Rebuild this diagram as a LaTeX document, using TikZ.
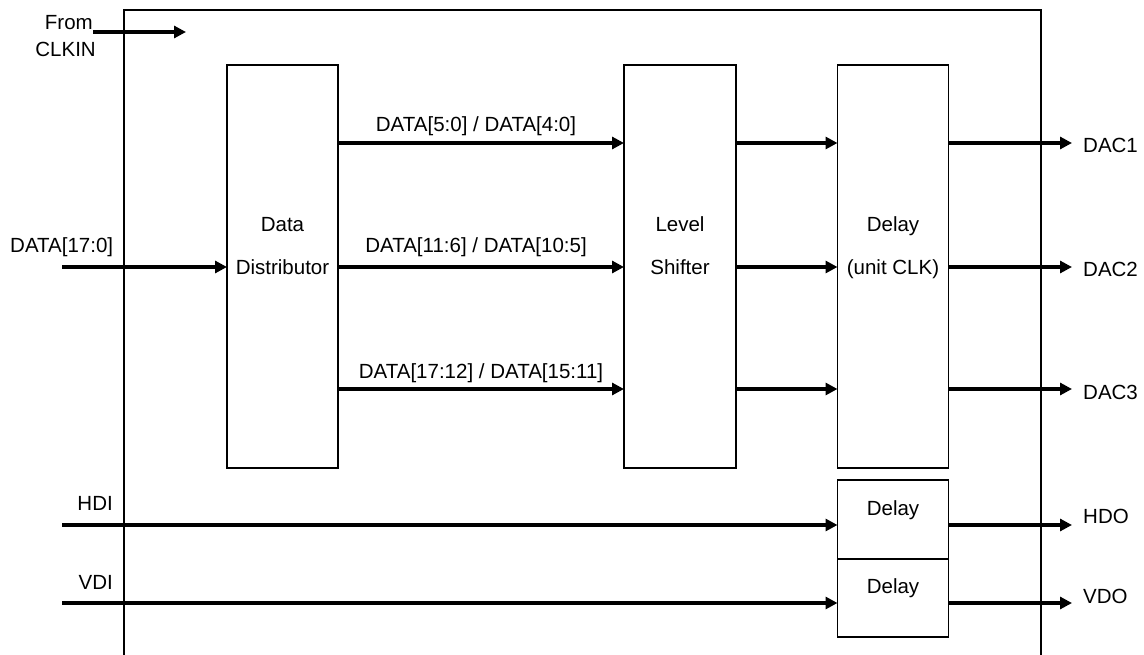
\documentclass[tikz,border=0pt]{standalone}
\usepackage{fontspec}
\setmainfont{Liberation Sans}
\usetikzlibrary{arrows.meta}
\begin{document}
\begin{tikzpicture}[x=1pt,y=-1pt,
  box/.style={draw,line width=1.4pt,inner sep=0pt,outer sep=0pt},
  arr/.style={line width=3.6pt,-{Triangle[length=12pt,width=12pt]}},
  lbl/.style={inner sep=0pt,font=\fontsize{20.5}{24}\selectfont}]
\useasboundingbox (0,0) rectangle (1144,655);
% outer frame
\draw[line width=1.4pt] (124,655) -- (124,10) -- (1041,10) -- (1041,655);
% boxes
\node[box,minimum width=111pt,minimum height=403pt] (dd) at (282.5,266.5) {};
\node[box,minimum width=112pt,minimum height=403pt] (ls) at (680,266.5) {};
\node[box,minimum width=111pt,minimum height=403pt] (dl) at (893,266.5) {};
\node[box,minimum width=111pt,minimum height=79pt] (hd) at (893,519.5) {};
\node[box,minimum width=111pt,minimum height=78pt] (vd) at (893,598) {};
% box texts
\node[lbl,anchor=base] (t1) at (282.5,232) {Data};
\node[lbl,anchor=base] (t2) at (282.5,275) {Distributor};
\node[lbl,anchor=base] (t3) at (680,232) {Level};
\node[lbl,anchor=base] (t4) at (680,275) {Shifter};
\node[lbl,anchor=base] (t5) at (893,232) {Delay};
\node[lbl,anchor=base] (t6) at (893,275) {(unit CLK)};
\node[lbl,anchor=base] (t7) at (893,515) {Delay};
\node[lbl,anchor=base] (t8) at (893,593) {Delay};
% From CLKIN
\node[lbl,anchor=base east] (from) at (93,30) {From};
\node[lbl,anchor=base east] (clk) at (96,57) {CLKIN};
\coordinate (c0) at (93,32);
\coordinate (c1) at (186,32);
\draw[arr] (c0) -- (c1);
% DATA input
\node[lbl,anchor=base west] (din) at (10,253) {DATA[17:0]};
\coordinate (d0) at (62,267);
\draw[arr] (d0) -- (dd.west |- d0);
% data buses
\coordinate (r1) at (0,143);
\coordinate (r2) at (0,267);
\coordinate (r3) at (0,389);
\draw[arr] (dd.east |- r1) -- (ls.west |- r1);
\draw[arr] (dd.east |- r2) -- (ls.west |- r2);
\draw[arr] (dd.east |- r3) -- (ls.west |- r3);
\node[lbl,anchor=base] (b1) at (476,132) {DATA[5:0] / DATA[4:0]};
\node[lbl,anchor=base] (b2) at (476,253) {DATA[11:6] / DATA[10:5]};
\node[lbl,anchor=base] (b3) at (481,378) {DATA[17:12] / DATA[15:11]};
% level shifter to delay
\draw[arr] (ls.east |- r1) -- (dl.west |- r1);
\draw[arr] (ls.east |- r2) -- (dl.west |- r2);
\draw[arr] (ls.east |- r3) -- (dl.west |- r3);
% outputs
\coordinate (o1) at (1072,143);
\coordinate (o2) at (1072,267);
\coordinate (o3) at (1072,389);
\draw[arr] (dl.east |- o1) -- (o1);
\draw[arr] (dl.east |- o2) -- (o2);
\draw[arr] (dl.east |- o3) -- (o3);
\node[lbl,anchor=base west] (dac1) at (1083,153) {DAC1};
\node[lbl,anchor=base west] (dac2) at (1083,277) {DAC2};
\node[lbl,anchor=base west] (dac3) at (1083,399) {DAC3};
% HDI / VDI
\node[lbl,anchor=base east] (hdi) at (113,510) {HDI};
\node[lbl,anchor=base east] (vdi) at (113,589) {VDI};
\coordinate (h0) at (62,525);
\coordinate (v0) at (62,603);
\draw[arr] (h0) -- (hd.west |- h0);
\draw[arr] (v0) -- (vd.west |- v0);
\coordinate (h1) at (1072,525);
\coordinate (v1) at (1072,603);
\draw[arr] (hd.east |- h1) -- (h1);
\draw[arr] (vd.east |- v1) -- (v1);
\node[lbl,anchor=base west] (hdo) at (1083,523) {HDO};
\node[lbl,anchor=base west] (vdo) at (1083,603) {VDO};
\end{tikzpicture}
\end{document}
